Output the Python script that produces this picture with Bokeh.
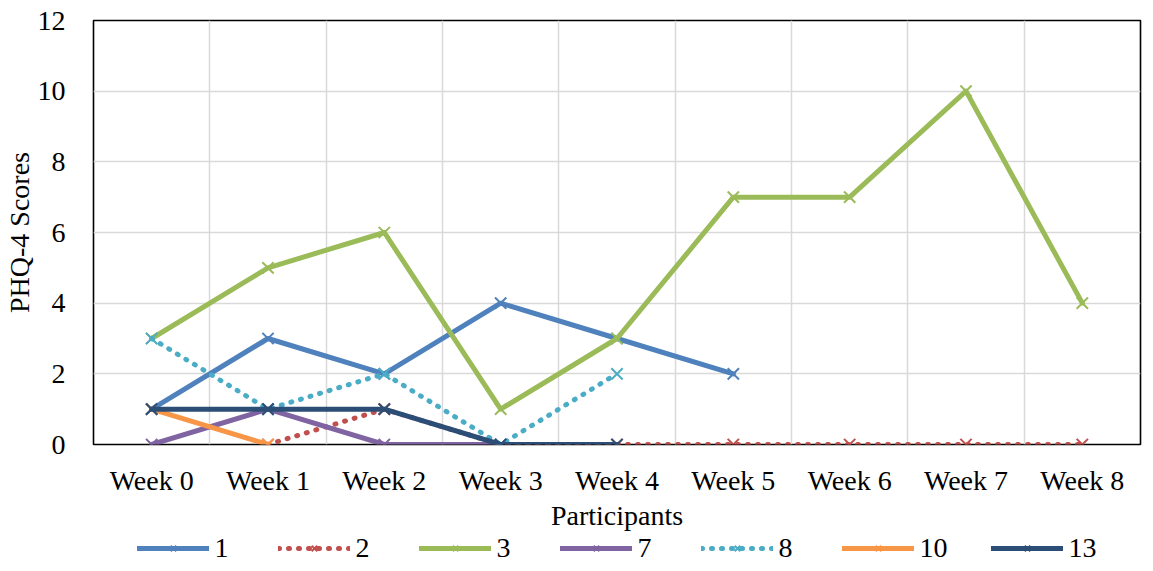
import math
from bokeh.plotting import figure
from bokeh.layouts import column
from bokeh.models import FixedTicker, Legend, LegendItem, Range1d
from bokeh.embed import file_html
from bokeh.resources import INLINE

nan = float("nan")

weeks = ["Week 0", "Week 1", "Week 2", "Week 3", "Week 4", "Week 5", "Week 6", "Week 7", "Week 8"]
y_ticks = [0, 2, 4, 6, 8, 10, 12]

series_names = ["1", "2", "3", "7", "8", "10", "13"]
p1 = [1, 3, 2, 4, 3, 2, nan, nan, nan]
p2 = [nan, 0, 1, 0, 0, 0, 0, 0, 0]
p3 = [3, 5, 6, 1, 3, 7, 7, 10, 4]
p7 = [0, 1, 0, 0, nan, nan, nan, nan, nan]
p8 = [3, 1, 2, 0, 2, nan, nan, nan, nan]
p10 = [1, 0, nan, nan, nan, nan, nan, nan, nan]
p13 = [1, 1, 1, 0, 0, nan, nan, nan, nan]
series_values = [p1, p2, p3, p7, p8, p10, p13]

colors = ["#4F81BD", "#C0504D", "#9BBB59", "#8064A2", "#4BACC6", "#F79646", "#2C4D75"]
dashes = ["solid", "1 9", "solid", "solid", "1 9", "solid", "solid"]

FONT = "Liberation Serif"
FS = "28px"

x_idx = list(range(len(weeks)))

# ---------------- main chart ----------------
p = figure(width=1145, height=533, output_backend="svg", toolbar_location=None,
           x_range=Range1d(-0.5, len(weeks) - 0.5), y_range=Range1d(0, 12),
           min_border_left=86, min_border_right=5, min_border_top=20, min_border_bottom=89)
p.background_fill_color = "white"
p.border_fill_color = "white"
p.outline_line_color = "black"
p.outline_line_width = 1.6

p.xaxis.ticker = FixedTicker(ticks=x_idx)
p.xaxis.major_label_overrides = {i: w for i, w in enumerate(weeks)}
p.yaxis.ticker = FixedTicker(ticks=y_ticks)
for ax in (p.xaxis[0], p.yaxis[0]):
    ax.axis_line_color = None
    ax.major_tick_line_color = None
    ax.minor_tick_line_color = None
    ax.major_tick_out = 0
    ax.major_tick_in = 0
    ax.minor_tick_out = 0
    ax.minor_tick_in = 0
    ax.major_label_text_font = FONT
    ax.major_label_text_font_size = FS
    ax.major_label_text_color = "black"
    ax.axis_label_text_font = FONT
    ax.axis_label_text_font_size = FS
    ax.axis_label_text_font_style = "normal"
    ax.axis_label_text_color = "black"
p.xaxis.axis_label = "Participants"
p.yaxis.axis_label = "PHQ-4 Scores"
p.xaxis.major_label_standoff = 20
p.xaxis.axis_label_standoff = 1
p.yaxis.major_label_standoff = 28
p.yaxis.axis_label_standoff = 0

p.xgrid.ticker = FixedTicker(ticks=[i + 0.5 for i in x_idx[:-1]])
p.ygrid.ticker = FixedTicker(ticks=y_ticks[1:-1])
for g in (p.xgrid[0], p.ygrid[0]):
    g.grid_line_color = "#D9D9D9"
    g.grid_line_width = 1.5

for name, vals, col, dash in zip(series_names, series_values, colors, dashes):
    p.line(x_idx, vals, line_color=col, line_width=5, line_dash=dash,
           line_cap="round", line_join="round")
    p.scatter(x_idx, vals, marker="x", size=16, line_color=col, line_width=2)

# ---------------- legend strip ----------------
# same series drawn again, but outside this strip's visible y range, so only the legend shows
pl = figure(width=1145, height=30, output_backend="svg", toolbar_location=None,
            x_range=Range1d(-0.5, len(weeks) - 0.5), y_range=Range1d(100, 101),
            min_border_left=41, min_border_right=0, min_border_top=0, min_border_bottom=0)
pl.axis.visible = False
pl.grid.visible = False
pl.outline_line_color = None
pl.background_fill_color = "white"
pl.border_fill_color = "white"

items = []
for name, vals, col, dash in zip(series_names, series_values, colors, dashes):
    ln = pl.line(x_idx, vals, line_color=col, line_width=5, line_dash=dash,
                 line_cap="round", line_join="round")
    sc = pl.scatter(x_idx, vals, marker="x", size=16, line_color=col, line_width=2)
    items.append(LegendItem(label=name, renderers=[ln, sc]))

legend = Legend(items=items, orientation="horizontal", location="center",
                glyph_width=72, glyph_height=20, label_height=20, label_standoff=6, spacing=43,
                padding=0, margin=0, border_line_color=None, background_fill_alpha=0,
                label_text_font=FONT, label_text_font_size=FS, label_text_color="black")
pl.add_layout(legend, "center")

layout = column(p, pl, spacing=0)
open("out.html", "w").write(file_html(layout, INLINE))
